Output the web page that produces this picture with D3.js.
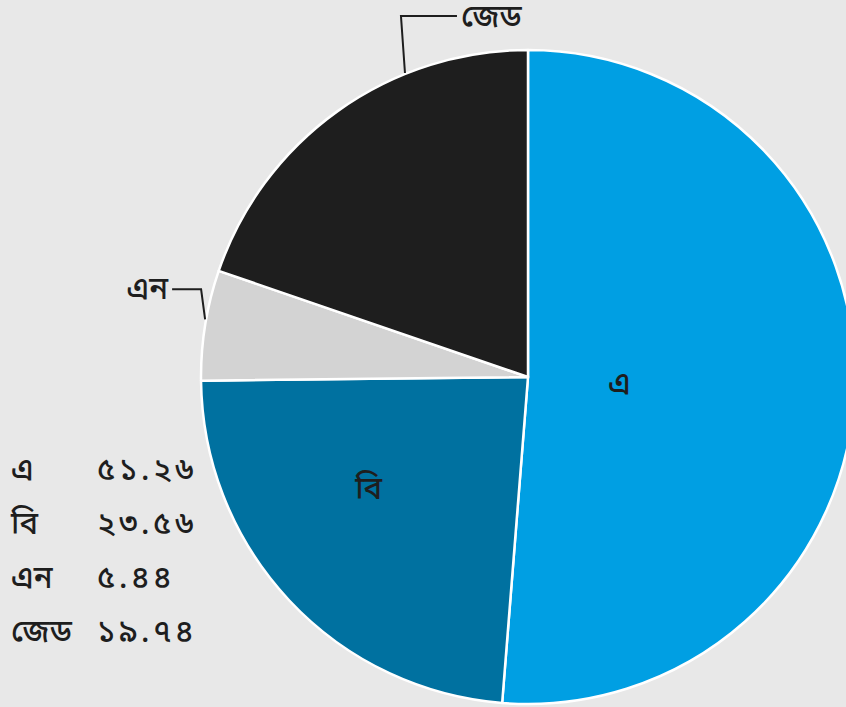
<!DOCTYPE html>
<html><head><meta charset="utf-8">
<script src="https://cdn.jsdelivr.net/npm/d3@7"></script>
<style>
html,body{margin:0;padding:0;background:#e8e8e8;overflow:hidden;}
text{font-family:"Noto Sans Bengali","Noto Sans","Lohit Bengali",sans-serif;fill:#1e1e1e;font-weight:500;}
</style></head>
<body><svg id="c" width="846" height="707"></svg>
<script>
const categories = ["এ", "বি", "এন", "জেড"];
const values = [51.26, 23.56, 5.44, 19.74];
const colors = ["#009fe3", "#0071a0", "#d3d3d3", "#1e1e1e"];
const labelMode = ["inside", "inside", "outside", "outside"];

const W = 846, H = 707;
const cx = 528, cy = 377, R = 327;
const FS = 31;
const bn = s => String(s).replace(/[0-9]/g, d => "০১২৩৪৫৬৭৮৯"[+d]);

const svg = d3.select("#c");
const data = categories.map((c, i) => ({name: c, value: values[i], color: colors[i], mode: labelMode[i]}));
const pie = d3.pie().value(d => d.value).sort(null);
const arcs = pie(data);
const arc = d3.arc().innerRadius(0).outerRadius(R);

const g = svg.append("g").attr("transform", `translate(${cx},${cy})`);
g.selectAll("path").data(arcs).join("path")
  .attr("d", arc).attr("fill", d => d.data.color)
  .attr("stroke", "#ffffff").attr("stroke-width", 2.5).attr("stroke-linejoin", "round");

const pol = (a, r) => [r * Math.sin(a), -r * Math.cos(a)];

// inside labels: position as fraction within slice and radius
const inside = {"এ": {f: 0.5, r: 0.28, dy: 6}, "বি": {f: 0.587, r: 0.60, dy: 0}};
arcs.filter(a => a.data.mode === "inside").forEach(a => {
  const p = inside[a.data.name];
  const ang = a.startAngle + (a.endAngle - a.startAngle) * p.f;
  const [x, y] = pol(ang, R * p.r);
  g.append("text").attr("x", x).attr("y", y + p.dy).attr("text-anchor", "middle")
    .attr("dominant-baseline", "central").attr("font-size", FS).text(a.data.name);
});

// outside labels with elbow leader lines
const outside = {
  "এন": {f: 0.55, rise: 30, len: 29, side: -1, dy: 2},
  "জেড": {f: 0.69, rise: 57, len: 56, side: 1, dy: 4}
};
arcs.filter(a => a.data.mode === "outside").forEach(a => {
  const p = outside[a.data.name];
  const ang = a.startAngle + (a.endAngle - a.startAngle) * p.f;
  const [x0, y0] = pol(ang, R + 1);
  const x1 = x0 - 4, y1 = y0 - p.rise;
  const x2 = x1 + p.side * p.len;
  g.append("path").attr("d", `M${x0},${y0}L${x1},${y1}L${x2},${y1}`)
    .attr("fill", "none").attr("stroke", "#1e1e1e").attr("stroke-width", 2);
  g.append("text").attr("x", x2 + p.side * 4).attr("y", y1 + p.dy)
    .attr("text-anchor", p.side > 0 ? "start" : "end")
    .attr("dominant-baseline", "central").attr("font-size", FS).text(a.data.name);
});

// legend
const leg = svg.append("g");
const ly = d3.scalePoint().domain(categories).range([472, 634]);
data.forEach(d => {
  leg.append("text").attr("x", 11).attr("y", ly(d.name)).attr("dominant-baseline", "central")
    .attr("font-size", FS).text(d.name);
  leg.append("text").attr("x", 97).attr("y", ly(d.name)).attr("dominant-baseline", "central")
    .attr("font-size", FS).attr("letter-spacing", 3.5).text(bn(d.value.toFixed(2)));
});
</script></body></html>
